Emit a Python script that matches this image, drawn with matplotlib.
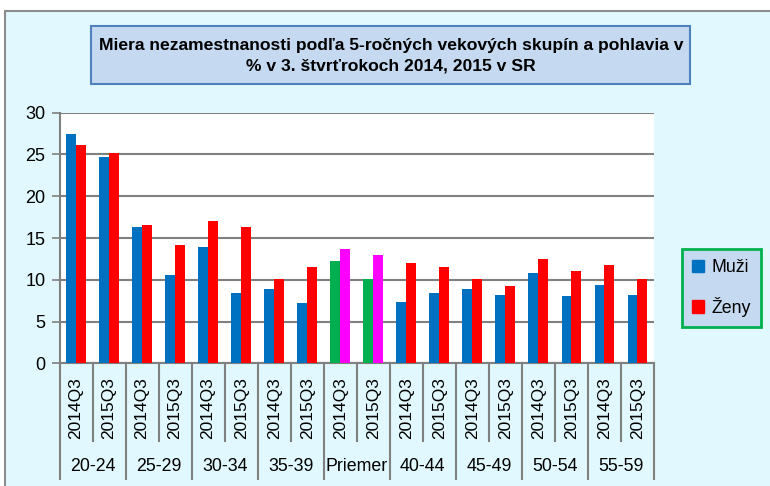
import matplotlib.pyplot as plt
from matplotlib.patches import Rectangle
from matplotlib.transforms import blended_transform_factory

# data
groups = ["20-24", "25-29", "30-34", "35-39", "Priemer", "40-44", "45-49", "50-54", "55-59"]
periods = ["2014Q3", "2015Q3"]
muzi = [27.5, 24.65, 16.3, 10.6, 13.9, 8.45, 8.95, 7.25, 12.25, 10.1,
        7.3, 8.45, 8.95, 8.2, 10.85, 8.0, 9.4, 8.2]
zeny = [26.1, 25.2, 16.55, 14.15, 17.0, 16.3, 10.1, 11.55, 13.7, 12.95,
        12.05, 11.55, 10.15, 9.2, 12.5, 11.1, 11.8, 10.15]

blue = "#0070C0"
red = "#FF0000"
font = ["Liberation Sans", "DejaVu Sans"]
plt.rcParams["font.family"] = font

n = len(muzi)
x = list(range(n))
muzi_col = [blue] * n
zeny_col = [red] * n
pi = groups.index("Priemer")
for k in (2 * pi, 2 * pi + 1):
    muzi_col[k] = "#00B050"
    zeny_col[k] = "#FF00FF"

fig = plt.figure(figsize=(7.7, 4.86), dpi=100)
W, H = 770, 486

# outer frame
fig.patches.append(Rectangle((5 / W, -0.1), 1.1, (H - 10.7) / H + 0.1, transform=fig.transFigure,
                             facecolor="#E0F8FE", edgecolor="#8C8C8C", lw=1.5, zorder=-2))
# title box
fig.patches.append(Rectangle((91 / W, 1 - 84.5 / H), 599 / W, 58 / H, transform=fig.transFigure,
                             facecolor="#C5D9F1", edgecolor="#4F81BD", lw=1.5, zorder=-1))
fig.text(391 / W, 1 - 56 / H,
         "Miera nezamestnanosti podľa 5-ročných vekových skupín a pohlavia v\n% v 3. štvrťrokoch 2014, 2015 v SR",
         ha="center", va="center", fontsize=12.6, fontweight="bold", linespacing=1.45)

ax = fig.add_axes([59.5 / W, 1 - 363.3 / H, (654 - 59.5) / W, 250.6 / H])
ax.set_facecolor("white")
w = 0.3
b1 = ax.bar([i - w / 2 for i in x], muzi, w, color=muzi_col, label="Muži", zorder=3)
b2 = ax.bar([i + w / 2 for i in x], zeny, w, color=zeny_col, label="Ženy", zorder=3)

ax.set_xlim(-0.5, n - 0.5)
ax.set_ylim(0, 30)
ax.set_yticks(range(0, 31, 5))
ax.yaxis.grid(True, color="#808080", lw=1.5, zorder=0)
ax.set_axisbelow(True)
for s in ["top", "right"]:
    ax.spines[s].set_visible(False)
ax.spines["left"].set_color("#808080")
ax.spines["bottom"].set_color("#808080")
ax.spines["left"].set_linewidth(1.5)
ax.spines["bottom"].set_linewidth(1.5)
ax.tick_params(axis="y", length=6, color="#808080", width=1.2, labelsize=13, pad=4)
ax.set_xticks([])

# multi-level category axis
tr = blended_transform_factory(ax.transData, ax.transAxes)
for i in x:
    ax.text(i, -0.055, periods[i % 2], transform=tr, rotation=90, ha="center", va="top",
            fontsize=12.5)
for j in range(n + 1):
    bottom = -0.46 if j % 2 == 0 else -0.31
    ax.plot([j - 0.5, j - 0.5], [0, bottom], transform=tr, color="#808080", lw=1.5, clip_on=False)
for g, name in enumerate(groups):
    ax.text(2 * g + 0.5, -0.41, name, transform=tr, ha="center", va="center", fontsize=12.8)

leg = ax.legend(handles=[b1[0], b2[0]], labels=["Muži", "Ženy"], loc="center left",
                bbox_to_anchor=(682 / W, 1 - 288 / H), bbox_transform=fig.transFigure,
                borderaxespad=0, fontsize=12.8, frameon=True, fancybox=False,
                handlelength=0.68, handleheight=0.68, labelspacing=1.15, borderpad=0.55,
                handletextpad=0.45)
leg.get_frame().set_facecolor("#C5D9F1")
leg.get_frame().set_edgecolor("#00B050")
leg.get_frame().set_linewidth(2)
leg.get_frame().set_alpha(1)
leg.legend_handles[0].set_color(blue)
leg.legend_handles[1].set_color(red)

fig.savefig("out.png", dpi=100)
